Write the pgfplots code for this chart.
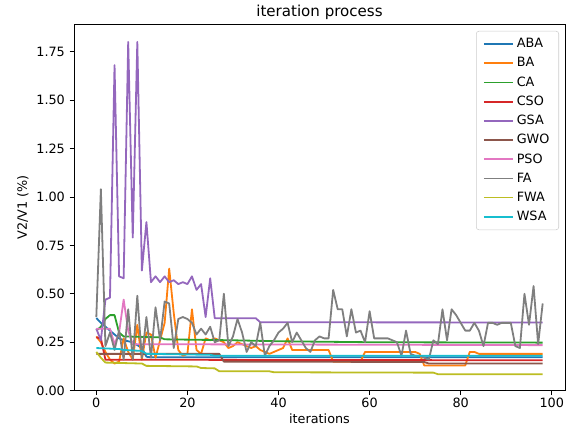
\documentclass[border=0pt]{standalone}
\usepackage{fontspec}
\setmainfont{DejaVu Sans}
\usepackage{pgfplots}
\pgfplotsset{compat=1.18}

\definecolor{c0}{HTML}{1F77B4}
\definecolor{c1}{HTML}{FF7F0E}
\definecolor{c2}{HTML}{2CA02C}
\definecolor{c3}{HTML}{D62728}
\definecolor{c4}{HTML}{9467BD}
\definecolor{c5}{HTML}{8C564B}
\definecolor{c6}{HTML}{E377C2}
\definecolor{c7}{HTML}{7F7F7F}
\definecolor{c8}{HTML}{BCBD22}
\definecolor{c9}{HTML}{17BECF}

\begin{document}
\begin{tikzpicture}
\begin{axis}[
    scale only axis,
    width=368.25pt, height=274.8pt,
    xmin=-4.9, xmax=102.9,
    ymin=0, ymax=1.891,
    xtick={0,20,...,100},
    ytick={0,0.25,...,1.75},
    yticklabel style={/pgf/number format/.cd, fixed, fixed zerofill, precision=2},
    xticklabel style={yshift=1.5pt},
    /pgf/number format/assume math mode=true,
    tick align=outside,
    xtick pos=bottom, ytick pos=left,
    major tick length=3.3pt,
    tick style={black, line width=0.6pt},
    axis line style={line width=0.6pt},
    font=\fontsize{9.6}{11}\selectfont,
    title={iteration process},
    title style={font=\fontsize{11.3}{13}\selectfont, at={(0.5,1)}, anchor=south, inner sep=0pt, yshift=-2.5pt},
    xlabel={iterations},
    xlabel style={yshift=2pt},
    ylabel={V2/V1 (\%)},
    ylabel style={yshift=-1pt},
    every axis plot/.append style={line width=1.35pt, line join=round},
    legend cell align=left,
    legend style={at={(1,1)}, anchor=north east, xshift=-4.5pt, yshift=-5pt,
        draw=black!20, rounded corners=2pt, fill=white, fill opacity=0.8, text opacity=1,
        row sep=1.8pt, inner xsep=5pt, inner ysep=3.5pt},
    legend image code/.code={\draw[#1] (0pt,0pt) -- (22pt,0pt);},
]

% ABA
\addplot[c0] coordinates {
(0,0.375)(1,0.35)(2,0.33)(3,0.31)(4,0.29)(5,0.27)(6,0.26)(8,0.25)(10,0.22)(11,0.175)(12,0.172)(98,0.172)
};
\addlegendentry{ABA}

% BA
\addplot[c1] coordinates {
(0,0.28)(1,0.25)(2,0.20)(3,0.16)(4,0.14)(5,0.15)(6,0.27)(7,0.20)(8,0.16)(9,0.34)(10,0.16)
(11,0.30)(12,0.29)(13,0.17)(14,0.26)(15,0.35)(16,0.63)(17,0.40)(18,0.21)(19,0.18)(20,0.19)
(21,0.42)(22,0.21)(23,0.19)(24,0.27)(25,0.26)(26,0.27)(27,0.26)(28,0.25)(29,0.22)(30,0.23)
(31,0.25)(32,0.24)(33,0.23)(34,0.22)(35,0.23)(36,0.21)(37,0.20)(38,0.19)(39,0.20)(40,0.21)
(41,0.22)(42,0.27)(43,0.21)(51,0.21)(52,0.15)(58,0.15)(59,0.20)(70,0.20)(71,0.19)(72,0.13)
(81,0.13)(82,0.20)(83,0.20)(84,0.19)(98,0.19)
};
\addlegendentry{BA}

% CA
\addplot[c2] coordinates {
(0,0.31)(1,0.33)(2,0.37)(3,0.39)(4,0.39)(5,0.30)(6,0.28)(14,0.275)(15,0.265)(30,0.26)(40,0.255)(60,0.25)(98,0.248)
};
\addlegendentry{CA}

% CSO
\addplot[c3] coordinates {
(0,0.275)(1,0.27)(2,0.16)(50,0.158)(98,0.157)
};
\addlegendentry{CSO}

% GSA
\addplot[c4] coordinates {
(0,0.32)(1,0.26)(2,0.47)(3,0.48)(4,1.68)(5,0.59)(6,0.58)(7,1.80)(8,0.79)(9,1.80)(10,0.62)
(11,0.87)(12,0.56)(13,0.59)(14,0.56)(15,0.59)(16,0.56)(17,0.57)(18,0.55)(19,0.56)(20,0.55)
(21,0.59)(22,0.52)(23,0.55)(24,0.38)(25,0.58)(26,0.374)(35,0.374)(36,0.353)(98,0.352)
};
\addlegendentry{GSA}

% GWO
\addplot[c5] coordinates {
(0,0.19)(27,0.19)(28,0.15)(72,0.148)(73,0.14)(98,0.14)
};
\addlegendentry{GWO}

% PSO
\addplot[c6] coordinates {
(0,0.32)(3,0.32)(4,0.24)(5,0.30)(6,0.47)(7,0.31)(8,0.24)(98,0.235)
};
\addlegendentry{PSO}

% FA
\addplot[c7] coordinates {
(0,0.38)(1,1.04)(2,0.23)(3,0.30)(4,0.21)(5,0.31)(6,0.16)(7,0.42)(8,0.16)(9,0.49)
(10,0.17)(11,0.38)(12,0.17)(13,0.43)(14,0.26)(15,0.46)(16,0.45)(17,0.22)(18,0.37)(19,0.38)
(20,0.37)(21,0.35)(22,0.29)(23,0.32)(24,0.29)(25,0.33)(26,0.25)(27,0.26)(28,0.50)(29,0.23)
(30,0.28)(31,0.37)(32,0.30)(33,0.20)(34,0.25)(35,0.23)(36,0.35)(37,0.18)(38,0.23)(39,0.26)
(40,0.30)(41,0.32)(42,0.35)(43,0.25)(44,0.30)(45,0.26)(46,0.22)(47,0.20)(48,0.26)(49,0.28)
(50,0.27)(51,0.27)(52,0.52)(53,0.42)(54,0.42)(55,0.28)(56,0.42)(57,0.30)(58,0.31)(59,0.25)
(60,0.41)(61,0.27)(62,0.27)(63,0.27)(64,0.27)(65,0.26)(66,0.25)(67,0.18)(68,0.31)(69,0.19)
(70,0.18)(71,0.18)(72,0.17)(73,0.16)(74,0.26)(75,0.24)(76,0.42)(77,0.26)(78,0.42)(79,0.39)
(80,0.35)(81,0.31)(82,0.31)(83,0.35)(84,0.31)(85,0.23)(86,0.35)(87,0.35)(88,0.34)(89,0.35)
(90,0.35)(91,0.35)(92,0.23)(93,0.22)(94,0.50)(95,0.34)(96,0.54)(97,0.24)(98,0.45)
};
\addlegendentry{FA}

% FWA
\addplot[c8] coordinates {
(0,0.20)(1,0.17)(2,0.145)(10,0.14)(11,0.128)(22,0.125)(23,0.117)(26,0.115)(27,0.10)(38,0.10)(39,0.095)(74,0.093)(75,0.085)(98,0.085)
};
\addlegendentry{FWA}

% WSA
\addplot[c9] coordinates {
(0,0.22)(5,0.215)(6,0.21)(10,0.205)(11,0.19)(25,0.185)(26,0.18)(98,0.18)
};
\addlegendentry{WSA}

\end{axis}
\pgfresetboundingbox
\path (-55.5pt,-34pt) rectangle (372.75pt,293pt);
\end{tikzpicture}
\end{document}
